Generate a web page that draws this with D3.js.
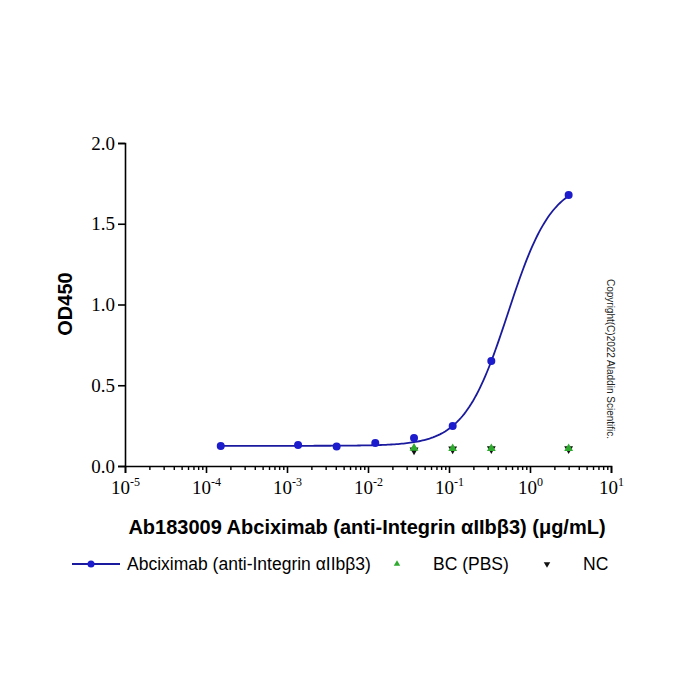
<!DOCTYPE html>
<html>
<head>
<meta charset="utf-8">
<script src="https://cdn.jsdelivr.net/npm/d3@7"></script>
<style>
  body { margin: 0; background: #fff; }
  .tick text { font-family: "Liberation Serif", "Times New Roman", serif; }
</style>
</head>
<body>
<div id="chart-area"></div>
<script>
// Abciximab dilution series (ug/mL) and OD450
var conc = [0.000152, 0.00137, 0.0041, 0.0123, 0.037, 0.111, 0.333, 3];
var od = [0.124, 0.13, 0.12, 0.143, 0.173, 0.248, 0.65, 1.678];

// blank control / negative control
var ctrlConc = [0.037, 0.111, 0.333, 3];
var bcOd = [0.11, 0.108, 0.108, 0.108];
var ncOd = [0.098, 0.105, 0.106, 0.106];

// 4PL fit parameters: bottom, top, EC50, hill slope
var fitParams = [0.125, 1.77, 0.535, 1.6];

var xTicks = [-5, -4, -3, -2, -1, 0, 1];
var yTicks = [0, 0.5, 1.0, 1.5, 2.0];

var width = 700, height = 700;
var margin = {top: 143, left: 125};
var innerW = 486, innerH = 323;

var svg = d3.select("#chart-area")
    .append("svg")
    .attr("width", width)
    .attr("height", height);

var g = svg.append("g")
    .attr("transform", "translate(" + margin.left + ", " + margin.top + ")");

var x = d3.scaleLog()
    .domain([1e-5, 10])
    .range([0, innerW]);

var y = d3.scaleLinear()
    .domain([0, 2])
    .range([innerH, 0]);

// x axis: major ticks with labels
var xAxis = d3.axisBottom(x)
    .tickValues(xTicks.map((e) => Math.pow(10, e)))
    .tickSize(7)
    .tickFormat("");
var xg = g.append("g")
    .attr("transform", "translate(0, " + innerH + ")")
    .call(xAxis);
xg.select(".domain").attr("stroke-width", 1.6);
xg.selectAll(".tick line").attr("stroke-width", 1.6);

xg.selectAll(".tick").each(function(d) {
    var t = d3.select(this).append("text")
        .attr("y", 28)
        .attr("fill", "#000")
        .attr("text-anchor", "middle")
        .attr("font-size", "19px");
    t.append("tspan").text("10");
    t.append("tspan")
        .attr("dy", -8)
        .attr("font-size", "12px")
        .text(Math.round(Math.log10(d)));
});

// minor ticks
var minors = [];
xTicks.slice(0, -1).forEach((e) => {
    for (var k = 2; k <= 9; k++) minors.push(k * Math.pow(10, e));
});
g.append("g")
    .attr("transform", "translate(0, " + innerH + ")")
    .call(d3.axisBottom(x).tickValues(minors).tickSize(4).tickFormat(""))
    .call((s) => s.select(".domain").remove())
    .selectAll(".tick line").attr("stroke-width", 1.4);

// y axis
var yAxis = d3.axisLeft(y)
    .tickValues(yTicks)
    .tickSize(7)
    .tickPadding(3)
    .tickFormat(d3.format(".1f"));
var yg = g.append("g").call(yAxis);
yg.select(".domain").attr("stroke-width", 1.6);
yg.selectAll(".tick line").attr("stroke-width", 1.6);
yg.selectAll(".tick text")
    .attr("font-size", "19px")
    .attr("fill", "#000");

// fitted curve
var fit = (c) => fitParams[0] + (fitParams[1] - fitParams[0]) / (1 + Math.pow(fitParams[2] / c, fitParams[3]));
var curveX = d3.range(0, 201).map((i) => {
    var lo = Math.log10(conc[0]), hi = Math.log10(conc[conc.length - 1]);
    return Math.pow(10, lo + (hi - lo) * i / 200);
});
g.append("path")
    .datum(curveX)
    .attr("fill", "none")
    .attr("stroke", "#1a1a9e")
    .attr("stroke-width", 1.8)
    .attr("d", d3.line()
        .x((c) => x(c))
        .y((c) => y(fit(c))));

// controls
var tri = d3.symbol().type(d3.symbolTriangle).size(34);
g.selectAll(".nc")
    .data(ctrlConc)
    .enter()
    .append("path")
        .attr("class", "nc")
        .attr("fill", "#111")
        .attr("d", tri)
        .attr("transform", (d, i) => "translate(" + x(d) + "," + y(ncOd[i]) + ") rotate(180)");
g.selectAll(".bc")
    .data(ctrlConc)
    .enter()
    .append("path")
        .attr("class", "bc")
        .attr("fill", "#2eaa2e")
        .attr("d", tri)
        .attr("transform", (d, i) => "translate(" + x(d) + "," + y(bcOd[i]) + ")");

// data points
g.selectAll(".pt")
    .data(conc)
    .enter()
    .append("circle")
        .attr("class", "pt")
        .attr("cx", (d) => x(d))
        .attr("cy", (d, i) => y(od[i]))
        .attr("r", 4)
        .attr("fill", "#1c1ccc");

// axis labels
svg.append("text")
    .attr("x", 367)
    .attr("y", 534)
    .attr("font-family", "Liberation Sans, Arial, sans-serif")
    .attr("font-weight", "bold")
    .attr("font-size", "20px")
    .attr("text-anchor", "middle")
    .text("Ab183009 Abciximab (anti-Integrin αIIbβ3) (μg/mL)");

svg.append("text")
    .attr("transform", "translate(72, 304) rotate(-90)")
    .attr("font-family", "Liberation Sans, Arial, sans-serif")
    .attr("font-weight", "bold")
    .attr("font-size", "20px")
    .attr("text-anchor", "middle")
    .text("OD450");

// copyright
svg.append("text")
    .attr("transform", "translate(607, 359) rotate(90)")
    .attr("font-family", "Liberation Sans, Arial, sans-serif")
    .attr("font-size", "10px")
    .attr("text-anchor", "middle")
    .attr("fill", "#222")
    .text("Copyright(C)2022 Aladdin Scientific.");

// legend
var leg = svg.append("g")
    .attr("font-family", "Liberation Sans, Arial, sans-serif")
    .attr("font-size", "17.5px");
leg.append("line")
    .attr("x1", 72).attr("x2", 120)
    .attr("y1", 564).attr("y2", 564)
    .attr("stroke", "#1a1a9e").attr("stroke-width", 1.8);
leg.append("circle")
    .attr("cx", 91).attr("cy", 564).attr("r", 3.5)
    .attr("fill", "#1c1ccc");
leg.append("text").attr("x", 127).attr("y", 570)
    .text("Abciximab (anti-Integrin αIIbβ3)");
leg.append("path")
    .attr("d", d3.symbol().type(d3.symbolTriangle).size(18))
    .attr("fill", "#2eaa2e")
    .attr("transform", "translate(397, 564)");
leg.append("text").attr("x", 433).attr("y", 570).text("BC (PBS)");
leg.append("path")
    .attr("d", d3.symbol().type(d3.symbolTriangle).size(18))
    .attr("fill", "#111")
    .attr("transform", "translate(547, 564) rotate(180)");
leg.append("text").attr("x", 583).attr("y", 570).text("NC");
</script>
</body>
</html>
